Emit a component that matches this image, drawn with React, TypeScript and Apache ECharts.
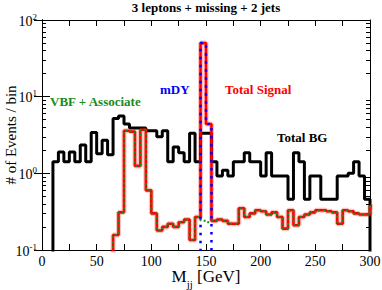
import React, { useEffect, useRef } from 'react';
import * as echarts from 'echarts';

const binWidth = 5;
const xTickLabels = [0, 50, 100, 150, 200, 250, 300];
const yTickLabels = ['-1', '0', '1', '2'];

const bgStart = 10;
const bgValues = [
  1.42, 1.9, 1.42, 1.9, 1.42, 2.35, 1.42, 3.4, 1.8, 2.7,
  1.75, 5.2, 5.6, 4.4, 3.9, 3.9, 3.9, 3.6, 3.6, 3.0,
  3.6, 1.42, 2.2, 1.86, 1.42, 3.33, 1.42, 3.33, 3.33, 1.42,
  0.92, 1.1, 0.92, 1.42, 1.42, 1.86, 1.42, 1.42, 0.92, 1.86,
  0.92, 0.92, 0.92, 0.46, 1.86, 1.42, 0.46, 0.92, 0.92, 0.46,
  0.46, 0.46, 0.92, 0.92, 1.0, 1.42, 0.92, 0.46,
];

const sigStart = 65;
const signalValues = [
  0.157, 0.31, 3.6, 3.5, 1.25, 3.7, 0.6, 0.30, 0.18, 0.20,
  0.22, 0.20, 0.23, 0.25, 0.135, 0.27, 50, 4.4, 0.24, 0.25,
  0.24, 0.22, 0.22, 0.35, 0.27, 0.30, 0.33, 0.32, 0.29, 0.31,
  0.27, 0.19, 0.33, 0.21, 0.27, 0.29, 0.31, 0.33, 0.33, 0.32,
  0.31, 0.22, 0.33, 0.32, 0.30, 0.29, 0.29, 0.37,
];
const vbfValues = [
  0.157, 0.31, 3.6, 3.5, 1.25, 3.7, 0.6, 0.30, 0.18, 0.20,
  0.22, 0.20, 0.23, 0.25, 0.135, 0.27, 0.24, 0.23, 0.24, 0.25,
  0.24, 0.22, 0.22, 0.35, 0.27, 0.30, 0.33, 0.32, 0.29, 0.31,
  0.27, 0.19, 0.33, 0.21, 0.27, 0.29, 0.31, 0.33, 0.33, 0.32,
  0.31, 0.22, 0.33, 0.32, 0.30, 0.29, 0.29, 0.37,
];

const mdyStart = 145;
const mdyValues = [50, 4.4];

const FLOOR = 0.001;
function steps(start: number, values: number[]): number[][] {
  const pts: number[][] = [[start, FLOOR]];
  values.forEach((v, i) => pts.push([start + i * binWidth, v]));
  pts.push([start + values.length * binWidth, values[values.length - 1]]);
  pts.push([start + values.length * binWidth, FLOOR]);
  return pts;
}

const SERIF = '"Liberation Serif", "DejaVu Serif", serif';
const GREEN = '#1a8c1a';

export default function App() {
  const ref = useRef<HTMLDivElement>(null);
  useEffect(() => {
    document.body.style.margin = '0';
    const chart = echarts.init(ref.current!, null, { renderer: 'svg' });
    const minorVals: number[] = [];
    [0.1, 1, 10].forEach((d) => {
      for (let k = 2; k <= 9; k++) minorVals.push(+(d * k).toPrecision(3));
    });
    const lineCommon = {
      type: 'line',
      step: 'end',
      showSymbol: false,
      symbol: 'none',
      clip: true,
      silent: true,
      xAxisIndex: 0,
      yAxisIndex: 0,
    };
    const logAxisBase = {
      type: 'log',
      logBase: 10,
      min: 0.1,
      max: 100,
      splitLine: { show: false },
      axisLine: { show: true, lineStyle: { color: '#000', width: 1 } },
    };
    const option: any = {
      animation: false,
      grid: { left: 42, top: 20, width: 328, height: 230, containLabel: false, outerBoundsMode: 'none' },
      xAxis: [
        {
          type: 'value',
          min: 0,
          max: 300,
          interval: 25,
          position: 'bottom',
          splitLine: { show: false },
          axisLine: { show: true, onZero: false, lineStyle: { color: '#000', width: 1 } },
          axisTick: { show: true, inside: true, length: 6, lineStyle: { color: '#000' } },
          axisLabel: {
            margin: 4,
            color: '#000',
            fontFamily: SERIF,
            fontSize: 14,
            formatter: (v: number) => (xTickLabels.includes(v) ? String(v) : ''),
          },
          name: '{m|M}{sub|jj}{m| [GeV]}',
          nameLocation: 'middle',
          nameGap: 18,
          nameMoveOverlap: false,
          nameTextStyle: {
            rich: {
              m: { fontFamily: SERIF, fontSize: 17, color: '#000', verticalAlign: 'top' },
              sub: { fontFamily: SERIF, fontSize: 11, color: '#000', padding: [10, 0, 0, 0], verticalAlign: 'top' },
            },
          },
        },
        {
          type: 'value',
          min: 0,
          max: 300,
          interval: 25,
          position: 'top',
          splitLine: { show: false },
          axisLine: { show: true, onZero: false, lineStyle: { color: '#000', width: 1 } },
          axisTick: { show: true, inside: true, length: 6, lineStyle: { color: '#000' } },
          axisLabel: { show: false },
        },
      ],
      yAxis: [
        {
          ...logAxisBase,
          position: 'left',
          axisTick: { show: true, inside: true, length: 8, lineStyle: { color: '#000' } },
          axisLabel: {
            margin: 5,
            formatter: (v: number) => {
              const e = String(Math.round(Math.log10(v)));
              return yTickLabels.includes(e) ? '{b|10}{s|' + e + '}' : '';
            },
            rich: {
              b: { fontFamily: SERIF, fontSize: 14, color: '#000', verticalAlign: 'bottom' },
              s: { fontFamily: SERIF, fontSize: 9, color: '#000', padding: [0, 0, 7, 0], verticalAlign: 'bottom' },
            },
          },
          name: '# of Events / bin',
          nameLocation: 'middle',
          nameGap: 24,
          nameMoveOverlap: false,
          nameTextStyle: { fontFamily: SERIF, fontSize: 15, color: '#000' },
        },
        {
          ...logAxisBase,
          position: 'right',
          axisTick: { show: true, inside: true, length: 8, lineStyle: { color: '#000' } },
          axisLabel: { show: false },
        },
        {
          ...logAxisBase,
          position: 'left',
          axisTick: { show: true, inside: true, length: 4, customValues: minorVals, lineStyle: { color: '#000' } },
          axisLabel: { show: false },
        },
        {
          ...logAxisBase,
          position: 'right',
          axisTick: { show: true, inside: true, length: 4, customValues: minorVals, lineStyle: { color: '#000' } },
          axisLabel: { show: false },
        },
      ],
      series: [
        {
          ...lineCommon,
          name: 'Total BG',
          data: steps(bgStart, bgValues),
          lineStyle: { color: '#000', width: 3 },
        },
        {
          ...lineCommon,
          name: 'halo',
          data: steps(sigStart, signalValues),
          lineStyle: { color: 'rgba(255,0,0,0.25)', width: 5 },
        },
        {
          ...lineCommon,
          name: 'Total Signal',
          data: steps(sigStart, signalValues),
          lineStyle: { color: '#ff0000', width: 2.6 },
        },
        {
          ...lineCommon,
          name: 'VBF + Associate',
          data: steps(sigStart, vbfValues),
          lineStyle: { color: GREEN, width: 2, type: [2, 3] },
        },
        {
          ...lineCommon,
          name: 'mDY',
          data: steps(mdyStart, mdyValues),
          lineStyle: { color: '#0000ff', width: 2.5, type: [2.5, 5.5] },
        },
      ],
      graphic: [
        {
          type: 'text',
          x: 206,
          y: 1,
          style: { text: '3 leptons + missing + 2 jets', fill: '#000', font: 'bold 13px ' + SERIF, textAlign: 'center' },
        },
        {
          type: 'text',
          x: 50,
          y: 95,
          style: { text: 'VBF + Associate', fill: GREEN, font: 'bold 13px ' + SERIF },
        },
        {
          type: 'text',
          x: 160,
          y: 83,
          style: { text: 'mDY', fill: '#0000ff', font: 'bold 13px ' + SERIF },
        },
        {
          type: 'text',
          x: 225,
          y: 83,
          style: { text: 'Total Signal', fill: '#ff0000', font: 'bold 13px ' + SERIF },
        },
        {
          type: 'text',
          x: 277,
          y: 131,
          style: { text: 'Total BG', fill: '#000', font: 'bold 13px ' + SERIF },
        },
      ],
    };
    chart.setOption(option);
    return () => chart.dispose();
  }, []);
  return (
    <div
      ref={ref}
      style={{ position: 'absolute', left: 0, top: 0, width: 382, height: 290, background: '#fff' }}
    />
  );
}
